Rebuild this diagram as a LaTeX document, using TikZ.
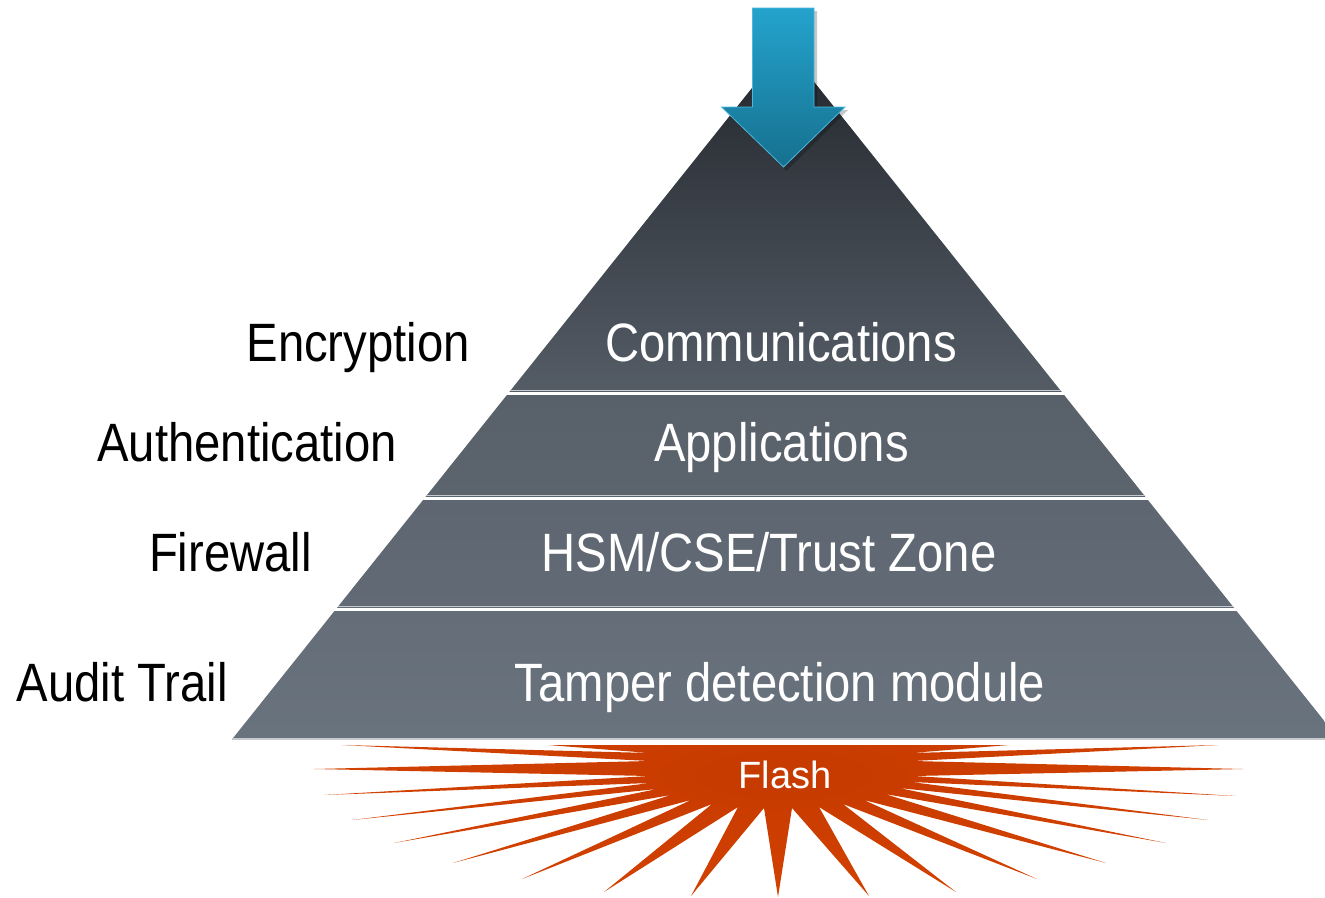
\documentclass[tikz,border=0pt]{standalone}
\usepackage{fontspec}
\setmainfont{Liberation Sans}

% palette
\definecolor{bandTopA}{HTML}{22262C}
\definecolor{bandTopB}{HTML}{545C66}
\definecolor{bandTwoA}{HTML}{58606A}
\definecolor{bandTwoB}{HTML}{5C646E}
\definecolor{bandThreeA}{HTML}{5E6771}
\definecolor{bandThreeB}{HTML}{626B75}
\definecolor{bandFourA}{HTML}{646D78}
\definecolor{bandFourB}{HTML}{69737E}
\definecolor{rimgray}{HTML}{C6CACF}
\definecolor{arrowTop}{HTML}{24A3CD}
\definecolor{arrowBot}{HTML}{16708F}
\definecolor{arrowEdge}{HTML}{4DB8DD}
\definecolor{flashA}{HTML}{C63A00}
\definecolor{flashB}{HTML}{D44200}
\definecolor{flashC}{HTML}{E04E0E}
\definecolor{flashD}{HTML}{F4B094}

% burst colouring: solid orange core, fading rays
\pgfdeclareradialshading{flashburst}{\pgfpoint{0bp}{0bp}}{%
  color(0bp)=(flashA); color(26bp)=(flashB); color(40bp)=(flashC);
  color(46.5bp)=(flashD); color(50bp)=(white)}

\newcommand\layerfont{\fontsize{54}{60}\selectfont}
\newcommand\flashfont{\fontsize{38}{44}\selectfont}
\newcommand\narrow[1]{\scalebox{0.875}[1]{#1}}

\tikzset{
  sidelabel/.style={inner sep=0pt, anchor=base east, font=\layerfont, text=black},
  bandlabel/.style={inner sep=0pt, anchor=base, font=\layerfont, text=white},
  flashlabel/.style={inner sep=0pt, anchor=base, font=\flashfont, text=white},
  rim/.style={fill=rimgray},
}

\begin{document}
\begin{tikzpicture}[x=1pt, y=-1pt]
  \fill[white] (0,0) rectangle (1325,897);
  \useasboundingbox (0,0) rectangle (1325,897);

  % ---- pyramid with four layers ----
  \begin{scope}
    \clip (785.5,46) -- (231.5,740) -- (1339.5,740) -- cycle;
    \shade[top color=bandTopA, bottom color=bandTopB] (200,40) rectangle (1360,391);
    \shade[top color=bandTwoA, bottom color=bandTwoB] (200,395) rectangle (1360,496);
    \shade[top color=bandThreeA, bottom color=bandThreeB] (200,500) rectangle (1360,607);
    \shade[top color=bandFourA, bottom color=bandFourB] (200,611) rectangle (1360,738);
    \fill[rim] (200,389.8) rectangle (1360,391);
    \fill[rim] (200,494.8) rectangle (1360,496);
    \fill[rim] (200,605.8) rectangle (1360,607);
    \fill[rim] (200,738) rectangle (1360,740);
  \end{scope}

  % ---- incoming arrow at the apex ----
  \fill[black, opacity=0.22] (755.5,11) -- (817,11) -- (817,110) -- (848,110)
        -- (786.5,171) -- (724.5,110) -- (755.5,110) -- cycle;
  \shade[top color=arrowTop, bottom color=arrowBot, draw=arrowEdge, line width=0.8pt]
        (752.5,8) -- (814,8) -- (814,107) -- (845,107) -- (783.5,167)
        -- (721.5,107) -- (752.5,107) -- cycle;

  % ---- flash burst under the pyramid ----
  \begin{scope}
    \clip (632,745) -- (548,745) -- (650,753) -- (342,745) -- (649,761)
      -- (314,769) -- (649,776) -- (324,795) -- (650,783) -- (352,820)
      -- (657,789) -- (394,843) -- (671,795) -- (453,863) -- (691,800)
      -- (522,879) -- (712,804) -- (604,892) -- (738,807) -- (691,896)
      -- (764,808) -- (778,897) -- (792,808) -- (869,896) -- (819,807)
      -- (956,892) -- (843,804) -- (1037,879) -- (864,800) -- (1106,863)
      -- (885,794) -- (1166,843) -- (899,788) -- (1208,820) -- (911,782)
      -- (1236,796) -- (914,776) -- (1243,769) -- (913,761) -- (1218,745)
      -- (911,753) -- (1009,745) -- (928,745) -- cycle;
    \shade[shading=flashburst] (785,775) ellipse [x radius=480pt, y radius=132pt];
  \end{scope}

  % ---- layer names ----
  \node[bandlabel] (comm) at (781,361) {\narrow{Communications}};
  \node[bandlabel] (apps) at (781.5,461) {\narrow{Applications}};
  \node[bandlabel] (hsm)  at (769,571) {\narrow{HSM/CSE/Trust Zone}};
  \node[bandlabel] (tamp) at (780,701) {\narrow{Tamper detection module}};

  % ---- protection mechanisms ----
  \node[sidelabel] (enc)  at (470,361) {\narrow{Encryption}};
  \node[sidelabel] (auth) at (397,461) {\narrow{Authentication}};
  \node[sidelabel] (fw)   at (312,571) {\narrow{Firewall}};
  \node[sidelabel] (aud)  at (228,701) {\narrow{Audit Trail}};

  \node[flashlabel] (flash) at (785,788) {Flash};
\end{tikzpicture}
\end{document}
